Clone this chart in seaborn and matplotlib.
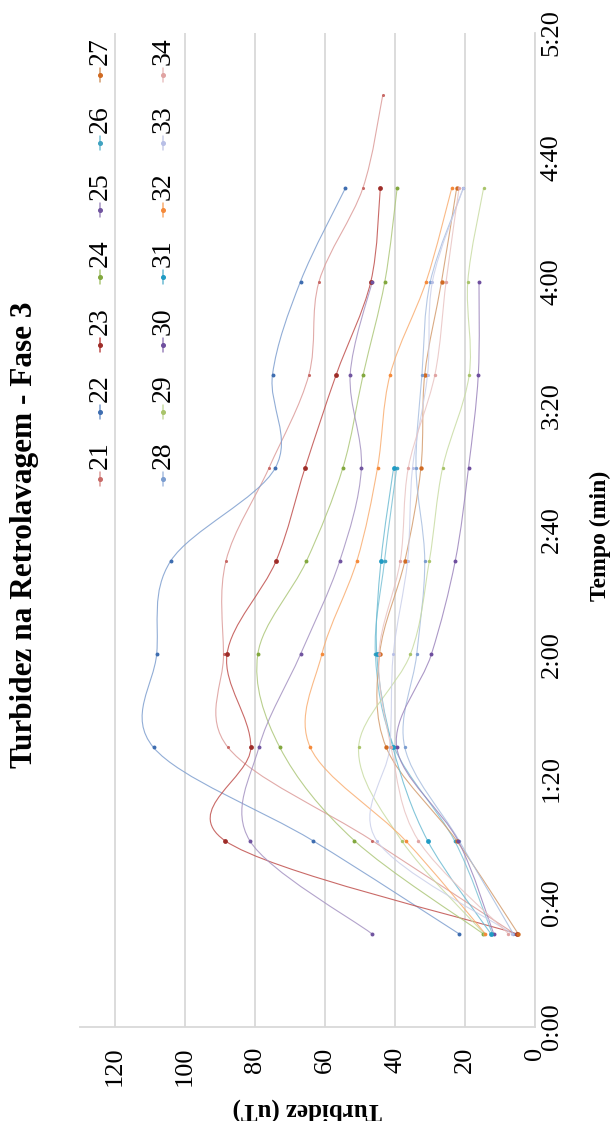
import numpy as np
import matplotlib
matplotlib.use("Agg")
import matplotlib.pyplot as plt
from matplotlib.path import Path
from matplotlib.patches import PathPatch
from matplotlib.lines import Line2D
import seaborn as sns

# ---------------- data (time in seconds, turbidity in uT) ----------------
times = [30, 60, 90, 120, 150, 180, 210, 240, 270, 300]

turb_21 = [5.8, 46.5, 87.7, 89.0, 88.3, 76.0, 64.6, 61.7, 49.2, 43.5]
turb_22 = [21.7, 63.5, 109.0, 108.1, 104.1, 74.2, 75.0, 67.0, 54.2]
turb_23 = [5.2, 88.6, 81.2, 88.0, 74.0, 65.7, 56.8, 46.9, 44.2]
turb_24 = [14.8, 51.6, 72.9, 79.2, 65.3, 54.9, 49.1, 42.9, 39.4]
turb_25 = [46.6, 81.5, 78.9, 67.0, 55.8, 49.6, 52.8, 46.5]
turb_26 = [12.2, 23.0, 40.2, 45.6, 43.0, 39.5]
turb_27 = [4.8, 22.4, 42.5, 44.4, 37.2, 32.6, 31.5, 26.7, 22.4]
turb_28 = [6.2, 21.7, 37.2, 33.8, 31.5, 34.0, 32.3, 29.9, 20.5]
turb_29 = [14.5, 38.1, 50.4, 35.6, 30.2, 26.4, 18.8, 19.2, 14.7]
turb_30 = [11.8, 22.0, 39.5, 29.6, 22.8, 19.0, 16.2, 16.0]
turb_31 = [12.6, 30.7, 40.6, 45.2, 44.0, 40.4]
turb_32 = [14.2, 37.0, 64.2, 60.9, 50.9, 45.0, 41.4, 31.1, 23.8]
turb_33 = [6.5, 45.2, 41.5, 40.5, 36.4, 35.0, 30.7, 29.3, 20.5]
turb_34 = [7.6, 33.3, 41.1, 44.6, 38.5, 36.2, 28.6, 25.4, 21.7]

series_names = ["21", "22", "23", "24", "25", "26", "27",
                "28", "29", "30", "31", "32", "33", "34"]
series_values = [turb_21, turb_22, turb_23, turb_24, turb_25, turb_26, turb_27,
                 turb_28, turb_29, turb_30, turb_31, turb_32, turb_33, turb_34]

turb_ticks = [0, 20, 40, 60, 80, 100, 120]
time_ticks = [0, 40, 80, 120, 160, 200, 240, 280, 320]
time_tick_labels = ["0:00", "0:40", "1:20", "2:00", "2:40", "3:20", "4:00", "4:40", "5:20"]

title = "Turbidez na Retrolavagem - Fase 3"
xlabel = "Turbidez (uT)"
ylabel = "Tempo (min)"

# ---------------- styles ----------------
line_colors = ["#DC9C9A", "#7F9FCF", "#C0504D", "#ADC77A", "#A593C2", "#7CC2D6", "#D39C6E",
               "#A9BFE0", "#C9DCA4", "#9D86BD", "#6EBCD3", "#F9AE72", "#CBD0EA", "#E9C4C3"]
marker_colors = ["#C86A67", "#3E6DB0", "#9E2C28", "#82A83E", "#7155A0", "#3FA2C0", "#D06A22",
                 "#7B9DD0", "#A9C46A", "#6E4E9E", "#1F9BC4", "#F58A3A", "#B8BFE6", "#E0A3A2"]
marker_sizes = [5, 8, 12, 8, 8, 7, 10, 6, 6, 8, 12, 7, 5, 6]

W, H = 613, 1121
sns.set_theme(style="white")
plt.rcParams["font.family"] = ["Liberation Serif", "DejaVu Serif"]
plt.rcParams["text.color"] = "black"
plt.rcParams["axes.labelcolor"] = "black"
plt.rcParams["xtick.color"] = "black"
plt.rcParams["ytick.color"] = "black"

fig = plt.figure(figsize=(W / 100, H / 100), dpi=100)
ax_left, ax_right, ax_top, ax_bottom = 80, 535, 33, 1027
ax = fig.add_axes([ax_left / W, 1 - ax_bottom / H,
                   (ax_right - ax_left) / W, (ax_bottom - ax_top) / H])

grid_c = "#D9D9D9"


def smooth_path(xs, ys):
    pts = np.column_stack([xs, ys]).astype(float)
    n = len(pts)
    verts = [pts[0]]
    codes = [Path.MOVETO]
    for i in range(n - 1):
        p0 = pts[i - 1] if i > 0 else pts[i]
        p1 = pts[i]
        p2 = pts[i + 1]
        p3 = pts[i + 2] if i + 2 < n else pts[i + 1]
        c1 = p1 + (p2 - p0) / 6.0
        c2 = p2 - (p3 - p1) / 6.0
        verts += [c1, c2, p2]
        codes += [Path.CURVE4] * 3
    return Path(verts, codes)


for name, vals, lc, mc, ms in zip(series_names, series_values, line_colors,
                                  marker_colors, marker_sizes):
    t = times[:len(vals)]
    patch = PathPatch(smooth_path(vals, t), facecolor="none", edgecolor=lc,
                      lw=0.8, alpha=0.85, zorder=2)
    ax.add_patch(patch)
    sns.scatterplot(x=vals, y=t, color=mc, s=ms, marker="o", linewidth=0,
                    ax=ax, legend=False, zorder=3)

ax.set_xlim(130, 0)
ax.set_ylim(0, 320)
ax.set_xticks(turb_ticks)
ax.set_xticklabels([str(v) for v in turb_ticks])
ax.set_yticks(time_ticks)
ax.set_yticklabels(time_tick_labels)
ax.xaxis.grid(True, color=grid_c, lw=1.3)
ax.yaxis.grid(False)
ax.set_axisbelow(True)
for s in ["top", "left"]:
    ax.spines[s].set_visible(False)
for s in ["bottom", "right"]:
    ax.spines[s].set_color(grid_c)
    ax.spines[s].set_linewidth(1.3)

ax.tick_params(axis="x", length=0, pad=14, labelsize=19, labelrotation=90, colors="black")
ax.tick_params(axis="y", length=0, pad=4, labelsize=19, labelrotation=90,
               left=False, labelleft=False, right=True, labelright=True, colors="black")
for lab in ax.get_yticklabels():
    lab.set_va("center")

ax.set_xlabel(xlabel, fontsize=18, fontweight="bold", rotation=180, color="black")
ax.xaxis.set_label_coords(0.5, -(1110 - ax_bottom) / (ax_bottom - ax_top))
ax.xaxis.label.set_va("center")
ax.xaxis.label.set_ha("center")

ax.yaxis.set_label_position("right")
ax.set_ylabel(ylabel, fontsize=17, fontweight="bold", rotation=90, color="black")
ax.yaxis.set_label_coords((600 - ax_left) / (ax_right - ax_left),
                          (ax_bottom - 536) / (ax_bottom - ax_top))
ax.yaxis.label.set_va("center")
ax.yaxis.label.set_ha("center")

fig.text(25 / W, 1 - 535 / H, title, rotation=90, ha="center", va="center",
         fontsize=22.5, fontweight="bold", color="black")

# ---------------- legend (rotated, two columns) ----------------
col_x = [100, 163]
row_y = [479, 412, 345, 277, 210, 143, 75]
for i, (name, lc, mc) in enumerate(zip(series_names, line_colors, marker_colors)):
    cx = col_x[i // 7]
    cy = row_y[i % 7]
    fig.add_artist(Line2D([cx / W, cx / W], [1 - (cy + 7) / H, 1 - (cy - 7) / H],
                          transform=fig.transFigure, color=lc, lw=1.1))
    fig.add_artist(Line2D([cx / W], [1 - cy / H], transform=fig.transFigure,
                          marker="o", markersize=2.6, color=mc, lw=0))
    fig.text(cx / W, 1 - (cy - 10) / H, name, rotation=90, ha="center", va="bottom",
             fontsize=20, color="black")

fig.savefig("out.png", dpi=100, facecolor="white")
